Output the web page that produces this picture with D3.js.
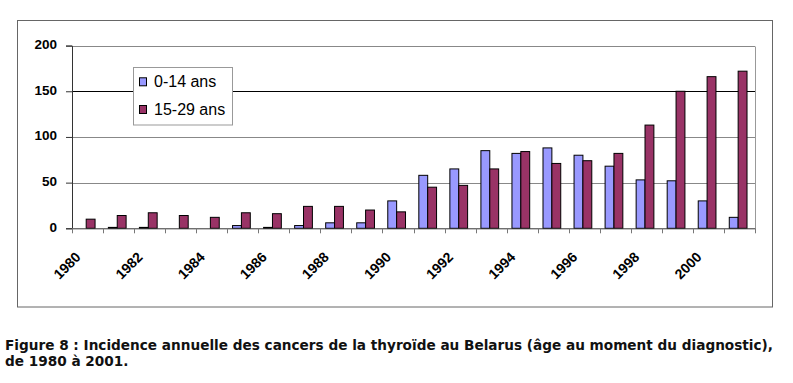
<!DOCTYPE html>
<html><head><meta charset="utf-8">
<script src="https://cdn.jsdelivr.net/npm/d3@7"></script>
<style>body{margin:0;background:#fff;}svg{display:block;}</style>
</head><body>
<script>
const years = ["1980","1981","1982","1983","1984","1985","1986","1987","1988","1989","1990","1991","1992","1993","1994","1995","1996","1997","1998","1999","2000","2001"];
const seriesNames = ["0-14 ans","15-29 ans"];
const kids   = [0,1,1,0,0,3,1,3,6,6,30,58,65,85,82,88,80,68,53,52,30,12];
const youth  = [10,14,17,14,12,17,16,24,24,20,18,45,47,65,84,71,74,82,113,150,166,172];
const yTicks = [0,50,100,150,200];
const xLabels = ["1980","1982","1984","1986","1988","1990","1992","1994","1996","1998","2000"];
const colors = ["#9999FF","#993366"];
const captionLines = ["Figure 8 : Incidence annuelle des cancers de la thyroïde au Belarus (âge au moment du diagnostic),","de 1980 à 2001."];

const W=793,H=383;
const FONT="'Liberation Sans', Arial, sans-serif";
const CAPFONT="'DejaVu Sans Condensed', 'DejaVu Sans', sans-serif";
const svg=d3.select("body").append("svg").attr("width",W).attr("height",H);
const L=72,R=755,T=45.6,B=228.3;

// outer frame
svg.append("rect").attr("x",17.5).attr("y",20.5).attr("width",755).attr("height",286.5)
  .attr("fill","#fff").attr("stroke","#666").attr("stroke-width",1);

const x0=d3.scaleBand().domain(years).range([L,R]).padding(0);
const x1=d3.scaleBand().domain(seriesNames).range([0,x0.bandwidth()]).paddingInner(0).paddingOuter(0.75).align(0.4);
const y=d3.scaleLinear().domain([0,200]).range([B,T]);

// gridlines
svg.append("g").selectAll("line").data(yTicks.filter(d=>d>0)).join("line")
  .attr("x1",L).attr("x2",R).attr("y1",d=>Math.round(y(d))+0.5).attr("y2",d=>Math.round(y(d))+0.5)
  .attr("stroke",d=>d===150?"#000":"#888").attr("stroke-width",1);
// right border
svg.append("line").attr("x1",R+0.5).attr("x2",R+0.5).attr("y1",Math.round(y(200))+0.5).attr("y2",B)
  .attr("stroke","#999");

// bars
const data=years.map((yr,i)=>({yr,vals:[kids[i],youth[i]]}));
const grp=svg.append("g").selectAll("g").data(data).join("g").attr("transform",d=>`translate(${x0(d.yr)},0)`);
grp.selectAll("rect").data(d=>d.vals.map((v,k)=>({k,v}))).join("rect")
  .attr("x",d=>x1(seriesNames[d.k]))
  .attr("width",x1.bandwidth())
  .attr("y",d=>y(d.v))
  .attr("height",d=>Math.max(0,B-y(d.v)))
  .attr("fill",d=>colors[d.k]).attr("stroke","#000").attr("stroke-width",1);

// axes
const yAxis=d3.axisLeft(y).tickValues(yTicks).tickSize(6).tickPadding(9);
const ya=svg.append("g").attr("transform",`translate(${L},0)`).call(yAxis);
ya.select(".domain").attr("stroke","#333");
ya.selectAll(".tick line").attr("stroke","#333");
ya.selectAll("text").style("font-family",FONT).style("font-weight","bold").style("font-size","13.5px").attr("fill","#000").attr("dy","0.22em");

const xAxis=d3.axisBottom(x0).tickValues([]).tickSizeOuter(0);
const xa=svg.append("g").attr("transform",`translate(0,${B})`).call(xAxis);
xa.select(".domain").attr("stroke","#333");
const bounds=years.map(yr=>x0(yr)).concat([R]);
xa.selectAll("line.bt").data(bounds).join("line").attr("class","bt")
  .attr("x1",d=>Math.round(d)+0.5).attr("x2",d=>Math.round(d)+0.5).attr("y1",0).attr("y2",5).attr("stroke","#777");
// labels
svg.append("g").selectAll("text").data(xLabels).join("text")
  .attr("transform",d=>`translate(${x0(d)+x0.bandwidth()/2-6},258) rotate(-45)`)
  .attr("text-anchor","end")
  .style("font-family",FONT).style("font-weight","bold").style("font-size","14px")
  .text(d=>d);

// legend
const lg=svg.append("g");
lg.append("rect").attr("x",133.5).attr("y",67.5).attr("width",99).attr("height",57.5).attr("fill","#fff").attr("stroke","#999");
seriesNames.forEach((s,i)=>{
  const yy=[87.3,115][i];
  lg.append("rect").attr("x",139.5).attr("y",yy-9.5).attr("width",7).attr("height",8).attr("fill",colors[i]).attr("stroke","#000");
  lg.append("text").attr("x",154).attr("y",yy).style("font-family",FONT).style("font-size","16px").text(s);
});

// caption
const cap=svg.append("g");
const c1=cap.append("text").attr("x",5).attr("y",350).style("font-family",CAPFONT)
  .style("font-stretch","condensed").style("font-weight","bold").style("font-size","13.4px").attr("fill","#111").text(captionLines[0]);
const c2=cap.append("text").attr("x",5).attr("y",366).style("font-family",CAPFONT)
  .style("font-stretch","condensed").style("font-weight","bold").style("font-size","13.4px").attr("fill","#111").text(captionLines[1]);
const wl=c1.node().getComputedTextLength();
if (Math.abs(wl-768)>2) {
  const k=768/wl;
  c1.attr("textLength",768).attr("lengthAdjust","spacingAndGlyphs");
  c2.attr("textLength",c2.node().getComputedTextLength()*k).attr("lengthAdjust","spacingAndGlyphs");
}
</script>
</body></html>
